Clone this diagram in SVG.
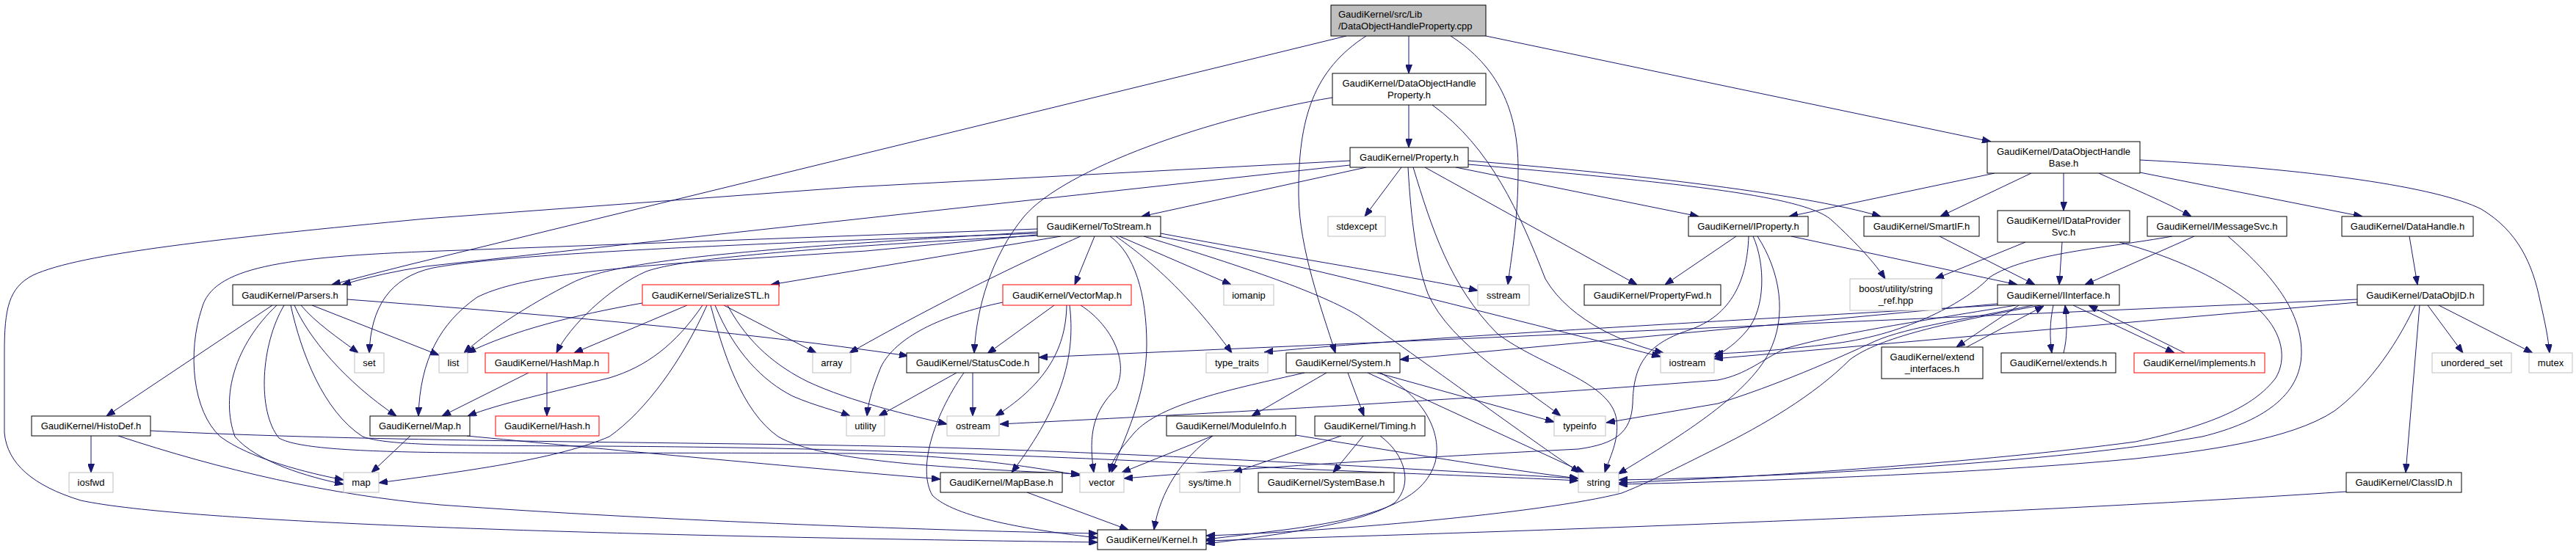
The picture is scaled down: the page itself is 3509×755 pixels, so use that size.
<svg xmlns="http://www.w3.org/2000/svg" width="3509" height="755" viewBox="0 0 3509 755">
<defs>
<marker id="a" viewBox="0 0 12 9" refX="12" refY="4.5" markerWidth="12" markerHeight="9" markerUnits="userSpaceOnUse" orient="auto"><path d="M0,0 L12,4.5 L0,9 z" fill="#191970" stroke="#191970" stroke-width="1"/></marker>
</defs>
<style>
.n{fill:#fff;stroke:#000;stroke-width:1}
.x{fill:#fff;stroke:#bfbfbf;stroke-width:1}
.r{fill:#fff;stroke:#ff0000;stroke-width:1}
.t{fill:#bfbfbf;stroke:#000;stroke-width:1}
text{font-family:"Liberation Sans",Arial,Helvetica,sans-serif;font-size:13px;fill:#000;text-anchor:middle}
#edges path{fill:none;stroke:#191970;stroke-width:1;marker-end:url(#a)}
</style>
<rect x="0" y="0" width="3509" height="755" fill="#fff"/>
<g id="edges">
<path d="M1919,49 L1919,100"/>
<path d="M1834,49 L560,360 Q500,375 452,388"/>
<path d="M1861,49 C1790,95 1768,160 1769,267 C1770,340 1800,420 1819,481"/>
<path d="M1976,49 C2040,90 2068,150 2068,230 C2068,300 2060,340 2054,388"/>
<path d="M2024,49 L2712,193"/>
<path d="M1919,143 L1919,201"/>
<path d="M1815,133 C1650,160 1450,230 1395,295 C1350,350 1330,420 1327,481"/>
<path d="M1951,143 C2030,200 2070,290 2105,380 C2140,440 2220,470 2266,481"/>
<path d="M1909,228 L1859,295"/>
<path d="M1861,228 L1555,295"/>
<path d="M1839,225 L580,363 Q520,372 466,388"/>
<path d="M1839,219 L1160,255 L580,298 C300,325 110,345 45,375 C12,392 6,420 6,480 L6,590 C10,632 45,662 110,682 C250,712 800,730 1495,739"/>
<path d="M1983,228 L2314,295"/>
<path d="M2000,219 C2200,235 2450,262 2562,295"/>
<path d="M2000,224 C2300,250 2460,268 2495,300 C2530,332 2555,360 2568,380"/>
<path d="M1941,228 L2230,388"/>
<path d="M1918,228 C1922,300 1930,360 1945,400 C1975,470 2080,530 2126,567"/>
<path d="M1925,228 C1950,310 1975,390 2040,455 C2100,500 2195,520 2202,572 C2206,600 2192,625 2186,644"/>
<path d="M1413,312 L600,342 C380,350 290,365 275,420 C255,480 262,560 300,595 C340,625 420,645 468,654"/>
<path d="M1413,316 C1100,335 850,350 780,385 C720,415 660,455 632,481"/>
<path d="M1413,320 L1180,342 L947,357 C800,368 700,380 650,405 C600,440 572,490 570,567"/>
<path d="M1413,321 C1100,338 930,352 880,370 C830,392 775,445 758,481"/>
<path d="M1413,318 C1000,333 700,345 590,365 C530,378 505,420 503,481"/>
<path d="M1445,322 L1050,388"/>
<path d="M1472,322 C1420,345 1300,400 1157,481"/>
<path d="M1491,322 L1464,388"/>
<path d="M1512,322 C1545,345 1562,400 1562,470 C1562,540 1530,600 1514,644"/>
<path d="M1520,322 C1560,350 1615,395 1678,481"/>
<path d="M1525,322 L1677,388"/>
<path d="M1558,322 C1700,365 1800,400 1850,430 C1950,500 2100,610 2152,644"/>
<path d="M1578,322 C1750,355 2000,420 2262,486"/>
<path d="M1581,318 C1750,350 1930,378 2013,396"/>
<path d="M371,416 L145,567"/>
<path d="M377,416 C320,470 300,540 320,595 C350,630 420,650 468,660"/>
<path d="M387,416 C355,470 350,560 380,597 C430,625 700,615 1160,618 C1300,620 1400,635 1471,648"/>
<path d="M396,416 C410,480 440,560 494,595 C540,612 700,605 1000,610 C1300,615 1600,630 1750,638 C1900,645 2050,650 2150,655"/>
<path d="M401,416 C420,460 470,520 540,567"/>
<path d="M410,416 C430,440 460,460 488,481"/>
<path d="M425,416 L598,484"/>
<path d="M473,408 C700,425 1000,450 1237,485"/>
<path d="M124,594 L124,644"/>
<path d="M205,587 C500,602 900,602 1200,608 C1500,614 1900,638 2150,652"/>
<path d="M161,594 C300,640 450,675 600,688 C900,710 1300,724 1495,727"/>
<path d="M875,413 C780,430 700,450 636,481"/>
<path d="M936,416 L782,481"/>
<path d="M957,416 C920,470 880,500 830,515 C750,535 680,550 637,567"/>
<path d="M963,416 C930,490 880,560 830,595 C760,625 650,640 516,658"/>
<path d="M968,416 C985,480 1010,560 1060,595 C1120,630 1300,638 1471,646"/>
<path d="M974,416 C1000,480 1040,520 1080,540 C1110,553 1140,560 1158,567"/>
<path d="M986,416 L1112,481"/>
<path d="M991,416 C1020,470 1060,500 1100,520 C1160,548 1240,566 1290,578"/>
<path d="M1366,412 C1280,430 1220,460 1200,500 C1190,525 1183,545 1181,567"/>
<path d="M1436,416 L1345,482"/>
<path d="M1453,416 C1452,470 1430,520 1356,567"/>
<path d="M1457,416 C1465,480 1450,550 1378,644"/>
<path d="M1472,416 C1510,440 1540,490 1520,530 C1490,560 1482,590 1490,644"/>
<path d="M1303,508 L1197,567"/>
<path d="M1325,508 L1325,567"/>
<path d="M1313,508 C1270,570 1250,640 1270,675 C1300,705 1400,722 1495,733"/>
<path d="M559,594 L506,644"/>
<path d="M636,594 C800,610 1100,638 1281,653"/>
<path d="M720,508 L602,567"/>
<path d="M745,508 L745,567"/>
<path d="M1399,671 L1537,722"/>
<path d="M1652,594 L1528,644"/>
<path d="M1652,594 C1610,625 1580,670 1572,722"/>
<path d="M1765,593 C1900,615 2050,640 2150,652"/>
<path d="M1777,508 C1680,530 1580,550 1545,590 C1528,610 1515,625 1511,644"/>
<path d="M1807,508 L1705,567"/>
<path d="M1836,508 L1858,567"/>
<path d="M1863,508 L2158,644"/>
<path d="M1876,508 L2117,575"/>
<path d="M1880,508 C1940,540 1965,590 1955,630 C1940,680 1880,705 1750,722 C1700,728 1670,732 1643,735"/>
<path d="M1827,594 L1680,644"/>
<path d="M1857,594 L1816,644"/>
<path d="M1880,594 C1915,620 1925,660 1900,685 C1860,712 1750,728 1643,741"/>
<path d="M2365,322 L2268,388"/>
<path d="M2440,322 L2748,388"/>
<path d="M2382,322 C2380,380 2360,430 2300,450 C2240,470 2225,500 2224,550 C2222,590 2200,605 2150,612 C1950,622 1700,638 1531,652"/>
<path d="M2388,322 C2405,360 2405,420 2380,450 C2365,468 2350,478 2335,487"/>
<path d="M2394,322 C2425,370 2435,430 2410,480 C2380,540 2280,600 2204,646"/>
<path d="M2642,322 L2772,388"/>
<path d="M2717,236 L2437,295"/>
<path d="M2767,236 L2643,295"/>
<path d="M2811,236 L2811,287"/>
<path d="M2859,236 C2900,255 2950,275 2985,295"/>
<path d="M2915,235 L3218,295"/>
<path d="M2915,218 C3150,230 3320,255 3380,285 C3430,315 3450,360 3460,410 C3467,440 3471,460 3473,481"/>
<path d="M2759,330 L2636,380"/>
<path d="M2809,330 L2805,388"/>
<path d="M2887,330 C2960,350 3030,380 3080,425 C3110,455 3115,490 3100,515 C3070,555 3010,580 2909,602 C2700,630 2400,650 2205,658"/>
<path d="M2989,322 L2840,388"/>
<path d="M2959,322 C2870,338 2760,345 2710,378 C2680,410 2600,455 2500,468 C2420,478 2370,481 2335,482"/>
<path d="M3035,322 C3090,370 3135,420 3135,480 C3135,540 3080,575 3000,595 C2800,630 2450,650 2205,654"/>
<path d="M3282,322 L3293,388"/>
<path d="M3296,416 L3277,644"/>
<path d="M3307,416 L3355,481"/>
<path d="M3322,416 L3450,481"/>
<path d="M3290,416 C3260,480 3220,530 3180,560 C3120,600 3000,615 2909,625 C2700,645 2400,656 2205,660"/>
<path d="M3211,412 L2335,489"/>
<path d="M3211,408 L1415,487"/>
<path d="M2750,416 L2665,473"/>
<path d="M2679,473 L2784,417"/>
<path d="M2797,416 C2792,440 2792,460 2795,481"/>
<path d="M2811,481 C2816,460 2816,440 2813,416"/>
<path d="M2824,416 L2962,481"/>
<path d="M2976,481 L2845,416"/>
<path d="M2721,414 L1907,490"/>
<path d="M2721,416 C2300,440 1900,462 1722,480"/>
<path d="M2746,416 C2600,440 2500,455 2432,475 C2400,490 2380,510 2340,518 C2000,545 1600,566 1362,578"/>
<path d="M2769,416 C2680,435 2600,445 2554,465 C2500,490 2420,525 2340,550 L2188,576"/>
<path d="M2780,416 C2650,440 2560,460 2520,490 C2470,540 2400,580 2340,610 C2280,640 2240,660 2209,672 C2100,700 1800,725 1643,730"/>
<path d="M3196,670 C2900,690 2400,715 1643,737"/>
</g>
<g id="n_top"><rect class="t" x="1813" y="7" width="211" height="42"/><text x="1823" y="24" style="text-anchor:start">GaudiKernel/src/Lib</text><text x="1823" y="40" style="text-anchor:start">/DataObjectHandleProperty.cpp</text></g>
<g id="n_dohp"><rect class="n" x="1815" y="100" width="209" height="43"/><text x="1919.5" y="117.5">GaudiKernel/DataObjectHandle</text><text x="1919.5" y="133.5">Property.h</text></g>
<g id="n_prop"><rect class="n" x="1839" y="201" width="161" height="27"/><text x="1919.5" y="219">GaudiKernel/Property.h</text></g>
<g id="n_dohb"><rect class="n" x="2707" y="193" width="208" height="43"/><text x="2811" y="210.5">GaudiKernel/DataObjectHandle</text><text x="2811" y="226.5">Base.h</text></g>
<g id="n_tostream"><rect class="n" x="1413" y="295" width="168" height="27"/><text x="1497" y="313">GaudiKernel/ToStream.h</text></g>
<g id="n_stdexcept"><rect class="x" x="1809" y="295" width="78" height="27"/><text x="1848" y="313">stdexcept</text></g>
<g id="n_iprop"><rect class="n" x="2300" y="295" width="163" height="27"/><text x="2381.5" y="313">GaudiKernel/IProperty.h</text></g>
<g id="n_smartif"><rect class="n" x="2539" y="295" width="157" height="27"/><text x="2617.5" y="313">GaudiKernel/SmartIF.h</text></g>
<g id="n_idps"><rect class="n" x="2721" y="287" width="180" height="43"/><text x="2811" y="304.5">GaudiKernel/IDataProvider</text><text x="2811" y="320.5">Svc.h</text></g>
<g id="n_imsg"><rect class="n" x="2925" y="295" width="190" height="27"/><text x="3020" y="313">GaudiKernel/IMessageSvc.h</text></g>
<g id="n_dh"><rect class="n" x="3190" y="295" width="179" height="27"/><text x="3279.5" y="313">GaudiKernel/DataHandle.h</text></g>
<g id="n_parsers"><rect class="n" x="317" y="388" width="156" height="28"/><text x="395" y="406.5">GaudiKernel/Parsers.h</text></g>
<g id="n_ser"><rect class="r" x="875" y="388" width="186" height="28"/><text x="968" y="406.5">GaudiKernel/SerializeSTL.h</text></g>
<g id="n_vmap"><rect class="r" x="1366" y="388" width="175" height="28"/><text x="1453.5" y="406.5">GaudiKernel/VectorMap.h</text></g>
<g id="n_iomanip"><rect class="x" x="1667" y="388" width="68" height="28"/><text x="1701" y="406.5">iomanip</text></g>
<g id="n_sstream"><rect class="x" x="2013" y="388" width="70" height="28"/><text x="2048" y="406.5">sstream</text></g>
<g id="n_pfwd"><rect class="n" x="2158" y="388" width="186" height="28"/><text x="2251" y="406.5">GaudiKernel/PropertyFwd.h</text></g>
<g id="n_iint"><rect class="n" x="2721" y="388" width="166" height="28"/><text x="2804" y="406.5">GaudiKernel/IInterface.h</text></g>
<g id="n_doid"><rect class="n" x="3211" y="388" width="172" height="28"/><text x="3297" y="406.5">GaudiKernel/DataObjID.h</text></g>
<g id="n_boost"><rect class="x" x="2520" y="380" width="125" height="43"/><text x="2582.5" y="397.5">boost/utility/string</text><text x="2582.5" y="413.5">_ref.hpp</text></g>
<g id="n_set"><rect class="x" x="483" y="481" width="40" height="27"/><text x="503" y="499">set</text></g>
<g id="n_list"><rect class="x" x="598" y="481" width="39" height="27"/><text x="617.5" y="499">list</text></g>
<g id="n_hashmap"><rect class="r" x="661" y="481" width="168" height="27"/><text x="745" y="499">GaudiKernel/HashMap.h</text></g>
<g id="n_array"><rect class="x" x="1107" y="481" width="52" height="27"/><text x="1133" y="499">array</text></g>
<g id="n_statuscode"><rect class="n" x="1235" y="481" width="180" height="27"/><text x="1325" y="499">GaudiKernel/StatusCode.h</text></g>
<g id="n_typetraits"><rect class="x" x="1643" y="481" width="84" height="27"/><text x="1685" y="499">type_traits</text></g>
<g id="n_system"><rect class="n" x="1752" y="481" width="155" height="27"/><text x="1829.5" y="499">GaudiKernel/System.h</text></g>
<g id="n_iostream"><rect class="x" x="2262" y="481" width="73" height="27"/><text x="2298.5" y="499">iostream</text></g>
<g id="n_extif"><rect class="n" x="2563" y="473" width="138" height="43"/><text x="2632" y="490.5">GaudiKernel/extend</text><text x="2632" y="506.5">_interfaces.h</text></g>
<g id="n_extends"><rect class="n" x="2726" y="481" width="156" height="27"/><text x="2804" y="499">GaudiKernel/extends.h</text></g>
<g id="n_implements"><rect class="r" x="2907" y="481" width="178" height="27"/><text x="2996" y="499">GaudiKernel/implements.h</text></g>
<g id="n_uset"><rect class="x" x="3313" y="481" width="108" height="27"/><text x="3367" y="499">unordered_set</text></g>
<g id="n_mutex"><rect class="x" x="3445" y="481" width="59" height="27"/><text x="3474.5" y="499">mutex</text></g>
<g id="n_histodef"><rect class="n" x="43" y="567" width="162" height="27"/><text x="124" y="585">GaudiKernel/HistoDef.h</text></g>
<g id="n_maph"><rect class="n" x="504" y="567" width="136" height="27"/><text x="572" y="585">GaudiKernel/Map.h</text></g>
<g id="n_hash"><rect class="r" x="675" y="567" width="141" height="27"/><text x="745.5" y="585">GaudiKernel/Hash.h</text></g>
<g id="n_utility"><rect class="x" x="1153" y="567" width="52" height="27"/><text x="1179" y="585">utility</text></g>
<g id="n_ostream"><rect class="x" x="1290" y="567" width="71" height="27"/><text x="1325.5" y="585">ostream</text></g>
<g id="n_modinfo"><rect class="n" x="1589" y="567" width="176" height="27"/><text x="1677" y="585">GaudiKernel/ModuleInfo.h</text></g>
<g id="n_timing"><rect class="n" x="1791" y="567" width="150" height="27"/><text x="1866" y="585">GaudiKernel/Timing.h</text></g>
<g id="n_typeinfo"><rect class="x" x="2117" y="567" width="70" height="27"/><text x="2152" y="585">typeinfo</text></g>
<g id="n_iosfwd"><rect class="x" x="94" y="644" width="60" height="27"/><text x="124" y="662">iosfwd</text></g>
<g id="n_map"><rect class="x" x="468" y="644" width="48" height="27"/><text x="492" y="662">map</text></g>
<g id="n_mapbase"><rect class="n" x="1281" y="644" width="166" height="27"/><text x="1364" y="662">GaudiKernel/MapBase.h</text></g>
<g id="n_vector"><rect class="x" x="1471" y="644" width="60" height="27"/><text x="1501" y="662">vector</text></g>
<g id="n_systime"><rect class="x" x="1607" y="644" width="82" height="27"/><text x="1648" y="662">sys/time.h</text></g>
<g id="n_systembase"><rect class="n" x="1714" y="644" width="185" height="27"/><text x="1806.5" y="662">GaudiKernel/SystemBase.h</text></g>
<g id="n_string"><rect class="x" x="2150" y="644" width="55" height="27"/><text x="2177.5" y="662">string</text></g>
<g id="n_classid"><rect class="n" x="3196" y="644" width="157" height="27"/><text x="3274.5" y="662">GaudiKernel/ClassID.h</text></g>
<g id="n_kernel"><rect class="n" x="1495" y="722" width="148" height="27"/><text x="1569" y="740">GaudiKernel/Kernel.h</text></g>
</svg>
